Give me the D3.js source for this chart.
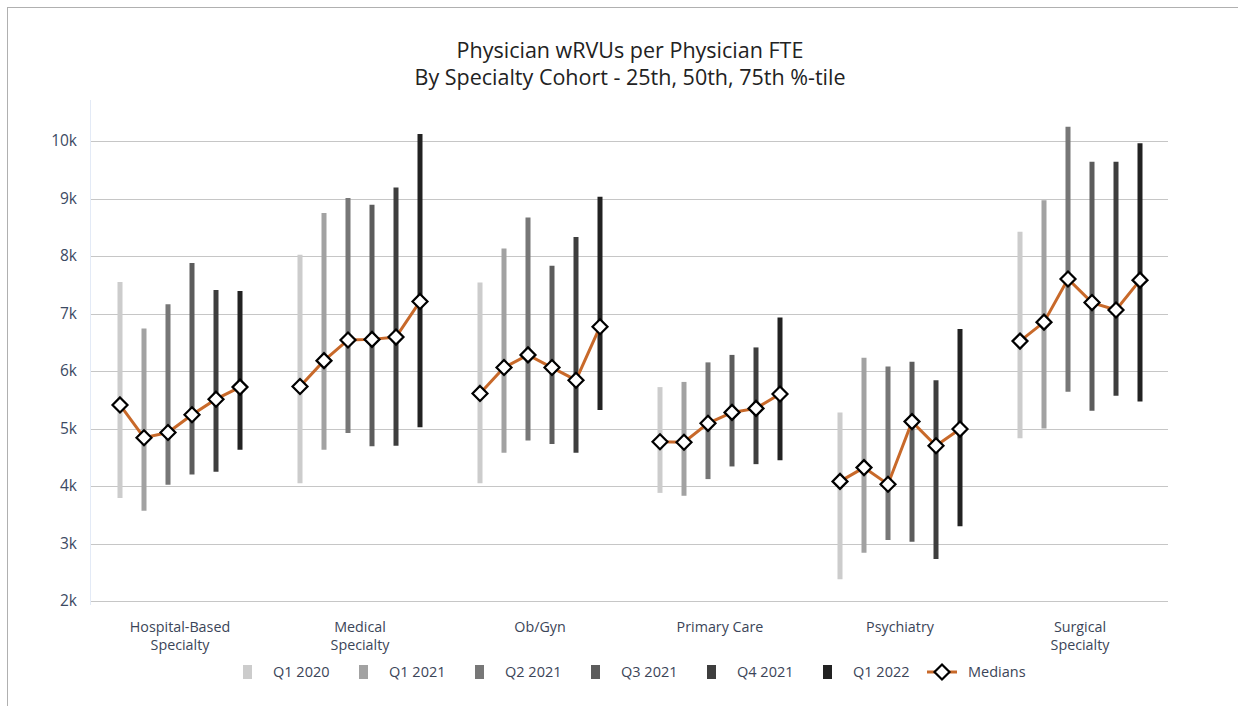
<!doctype html>
<html lang="en">
<head>
  <meta charset="utf-8">
  <title>wRVUs per FTE</title>
  <style>
    * { margin: 0; padding: 0; box-sizing: border-box; }
    body { background: #fff; font-family: "Open Sans", "Noto Sans", sans-serif; }
  </style>
</head>
<body>
  <div class="chart"></div>
  <script src="https://cdn.jsdelivr.net/npm/d3@7"></script>
  <script>
    // ---------------------------------------------------------------
    //@@ data
    const categories = ['Hospital-Based Specialty', 'Medical Specialty', 'Ob/Gyn', 'Primary Care', 'Psychiatry', 'Surgical Specialty'];
    const quarters = ['Q1 2020', 'Q1 2021', 'Q2 2021', 'Q3 2021', 'Q4 2021', 'Q1 2022'];
    const yTicks = [2000, 3000, 4000, 5000, 6000, 7000, 8000, 9000, 10000];

    // one row per category, one value per quarter
    const p25 = [
      [3790, 3570, 4020, 4200, 4250, 4630],
      [4050, 4630, 4920, 4690, 4700, 5020],
      [4050, 4580, 4790, 4730, 4580, 5320],
      [3880, 3830, 4120, 4340, 4380, 4450],
      [2380, 2840, 3060, 3030, 2730, 3300],
      [4830, 5000, 5640, 5310, 5570, 5470]
    ];
    const p50 = [
      [5410, 4840, 4930, 5240, 5510, 5720],
      [5730, 6180, 6540, 6550, 6590, 7210],
      [5610, 6060, 6280, 6060, 5840, 6770],
      [4770, 4760, 5090, 5280, 5350, 5600],
      [4080, 4320, 4030, 5120, 4700, 4990],
      [6520, 6850, 7600, 7190, 7060, 7580]
    ];
    const p75 = [
      [7550, 6740, 7160, 7880, 7410, 7390],
      [8020, 8750, 9010, 8890, 9190, 10120],
      [7540, 8130, 8670, 7830, 8330, 9030],
      [5720, 5810, 6150, 6280, 6410, 6930],
      [5280, 6230, 6080, 6160, 5840, 6730],
      [8420, 8970, 10250, 9640, 9640, 9960]
    ];

    const quarterColors = ['#cccccc', '#a2a2a2', '#777777', '#5c5c5c', '#3e3e3e', '#222222'];
    const medianColor = '#c8692a';
    const textColor = '#3b4558';

    // ---------------------------------------------------------------
    //@@ svg
    const W = 1238, H = 706;
    const svg = d3.select('.chart').append('svg')
      .attr('width', W)
      .attr('height', H);

    //@@ card border (cropped at right/bottom)
    svg.append('rect')
      .attr('x', 7.5).attr('y', 7.5)
      .attr('width', W + 20).attr('height', H + 20)
      .attr('fill', 'none')
      .attr('stroke', '#b0b0b0');

    //@@ title
    const title = svg.append('text')
      .attr('text-anchor', 'middle')
      .attr('fill', '#222')
      .style('font-size', '21.5px');
    title.append('tspan').attr('x', 630).attr('y', 58).text('Physician wRVUs per Physician FTE');
    title.append('tspan').attr('x', 630).attr('y', 85).text('By Specialty Cohort - 25th, 50th, 75th %-tile');

    //@@ scales
    const plot = {l: 90, r: 1170, t: 100, b: 605};
    const scaleX = d3.scaleBand().domain(categories).range([plot.l, plot.r]);
    const scaleQ = d3.scalePoint().domain(quarters).range([30, 150]);
    const scaleY = d3.scaleLinear().domain([2000, 10000]).range([601, 141]);

    //@@ grid
    svg.append('g')
      .selectAll('line')
      .data(yTicks)
      .enter()
      .append('line')
      .attr('x1', plot.l + 1).attr('x2', plot.r - 2)
      .attr('y1', d => Math.round(scaleY(d)) + 0.5)
      .attr('y2', d => Math.round(scaleY(d)) + 0.5)
      .attr('stroke', '#c6c6c6')
      .attr('stroke-width', 1);

    //@@ y axis line (faint)
    svg.append('line')
      .attr('x1', plot.l + 0.5).attr('x2', plot.l + 0.5)
      .attr('y1', plot.t).attr('y2', plot.b)
      .attr('stroke', '#e3eaf6');

    //@@ y axis labels
    const axisY = d3.axisLeft(scaleY)
      .tickValues(yTicks)
      .tickSize(0)
      .tickPadding(0)
      .tickFormat(d => (d / 1000) + 'k');
    const areaAxisY = svg.append('g')
      .attr('transform', 'translate(77,0)')
      .call(axisY);
    areaAxisY.select('.domain').remove();
    areaAxisY.selectAll('text')
      .attr('fill', '#3c4a63')
      .style('font-size', '15.5px')
      .style('font-family', '"Open Sans", sans-serif');

    //@@ x labels
    const xLabelLines = categories.map(c => {
      const i = c.lastIndexOf(' Specialty');
      return i > 0 ? [c.slice(0, i), 'Specialty'] : [c];
    });
    const xLabels = svg.append('g')
      .selectAll('text')
      .data(categories)
      .enter()
      .append('text')
      .attr('text-anchor', 'middle')
      .attr('fill', textColor)
      .style('font-size', '14.3px');
    xLabels.each(function (d, i) {
      const cx = scaleX(d) + scaleX.bandwidth() / 2;
      d3.select(this).selectAll('tspan')
        .data(xLabelLines[i])
        .enter()
        .append('tspan')
        .attr('x', cx)
        .attr('y', (t, j) => 632 + j * 18)
        .text(t => t);
    });

    //@@ range bars
    const groups = svg.append('g')
      .selectAll('g')
      .data(categories)
      .enter()
      .append('g')
      .attr('transform', d => `translate(${scaleX(d)},0)`);

    groups.each(function (cat, ci) {
      const g = d3.select(this);
      const rows = quarters.map((q, qi) => ({
        q, qi, lo: p25[ci][qi], mid: p50[ci][qi], hi: p75[ci][qi]
      }));

      g.selectAll('line.bar')
        .data(rows)
        .enter()
        .append('line')
        .attr('class', 'bar')
        .attr('x1', d => scaleQ(d.q)).attr('x2', d => scaleQ(d.q))
        .attr('y1', d => scaleY(d.lo)).attr('y2', d => scaleY(d.hi))
        .attr('stroke', d => quarterColors[d.qi])
        .attr('stroke-width', 5);

      g.append('path')
        .datum(rows)
        .attr('fill', 'none')
        .attr('stroke', medianColor)
        .attr('stroke-width', 3)
        .attr('d', d3.line().x(d => scaleQ(d.q)).y(d => scaleY(d.mid)));

      g.selectAll('path.marker')
        .data(rows)
        .enter()
        .append('path')
        .attr('class', 'marker')
        .attr('transform', d => `translate(${scaleQ(d.q)},${scaleY(d.mid)})`)
        .attr('d', 'M0,-7.5L7.5,0L0,7.5L-7.5,0Z')
        .attr('fill', '#fff')
        .attr('stroke', '#000')
        .attr('stroke-width', 2.2);
    });

    //@@ legend
    const legendY = 672;
    const legend = svg.append('g');
    const legendItems = legend.selectAll('g')
      .data(quarters)
      .enter()
      .append('g')
      .attr('transform', (d, i) => `translate(${243 + i * 116},${legendY})`);
    legendItems.append('rect')
      .attr('x', 0).attr('y', -7)
      .attr('width', 9).attr('height', 14)
      .attr('fill', (d, i) => quarterColors[i]);
    legendItems.append('text')
      .attr('x', 30).attr('y', 5)
      .attr('fill', textColor)
      .style('font-size', '14.5px')
      .text(d => d);

    const medLeg = legend.append('g')
      .attr('transform', `translate(${243 + 6 * 116 - 12},${legendY})`);
    medLeg.append('line')
      .attr('x1', 0).attr('x2', 30)
      .attr('stroke', medianColor)
      .attr('stroke-width', 3);
    medLeg.append('path')
      .attr('transform', 'translate(15,0)')
      .attr('d', 'M0,-7.5L7.5,0L0,7.5L-7.5,0Z')
      .attr('fill', '#fff')
      .attr('stroke', '#000')
      .attr('stroke-width', 2.2);
    medLeg.append('text')
      .attr('x', 41).attr('y', 5)
      .attr('fill', textColor)
      .style('font-size', '14.5px')
      .text('Medians');
  </script>
</body>
</html>
